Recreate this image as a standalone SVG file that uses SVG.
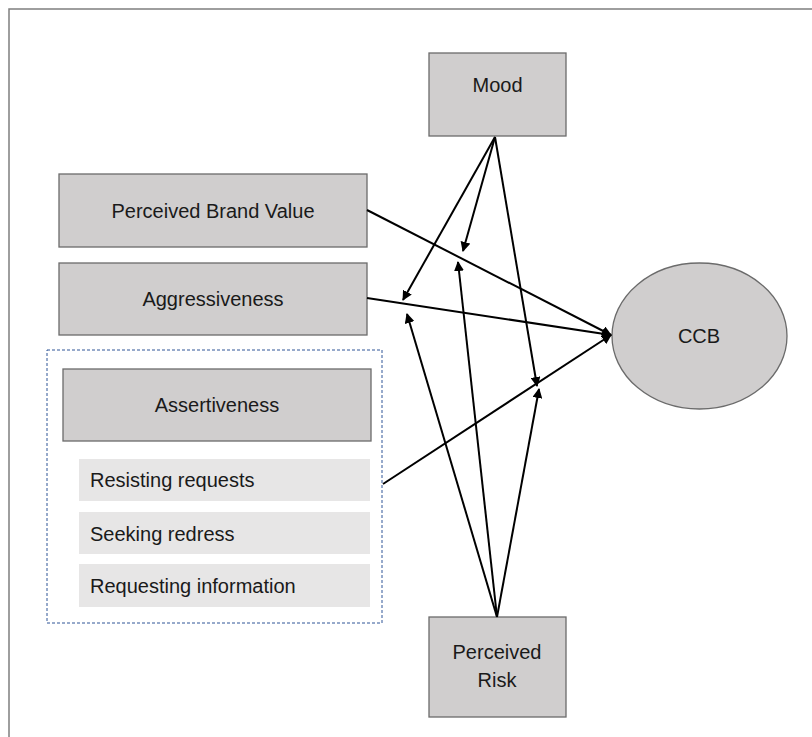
<svg xmlns="http://www.w3.org/2000/svg" width="812" height="737" viewBox="0 0 812 737">
<style>
.box{fill:#d0cece;stroke:#6b6b6b;stroke-width:1.3}
.sub{fill:#e7e6e6}
.t{font-family:"Liberation Sans",Arial,sans-serif;font-size:20px;fill:#1a1a1a}
.c{text-anchor:middle}
.ln{stroke:#000;stroke-width:2;fill:none;marker-end:url(#ah)}
</style>
<defs>
<marker id="ah" viewBox="0 0 10 10" refX="9" refY="5" markerWidth="5" markerHeight="5" orient="auto" markerUnits="strokeWidth">
<path d="M0,0 L10,5 L0,10 Z" fill="#000"/>
</marker>
</defs>
<rect width="812" height="737" fill="#fff"/>
<path d="M9,737 V9 H812" fill="none" stroke="#7f7f7f" stroke-width="1.5"/>

<g id="mood"><rect class="box" x="429" y="53" width="137" height="83"/><text class="t c" x="497.5" y="92">Mood</text></g>
<g id="pbv"><rect class="box" x="59" y="174" width="308" height="73"/><text class="t c" x="213" y="218">Perceived Brand Value</text></g>
<g id="agg"><rect class="box" x="59" y="263" width="308" height="72"/><text class="t c" x="213" y="306">Aggressiveness</text></g>
<g id="assertiveness-group">
<rect x="47" y="350" width="335" height="273" fill="none" stroke="#2f5597" stroke-width="1" stroke-dasharray="3,2"/>
<g id="ass"><rect class="box" x="63" y="369" width="308" height="72"/><text class="t c" x="217" y="412">Assertiveness</text></g>
<g id="resisting"><rect class="sub" x="79" y="459" width="291" height="42"/><text class="t" x="90" y="487">Resisting requests</text></g>
<g id="seeking"><rect class="sub" x="79" y="512" width="291" height="42"/><text class="t" x="90" y="541">Seeking redress</text></g>
<g id="requesting"><rect class="sub" x="79" y="564" width="291" height="43"/><text class="t" x="90" y="593">Requesting information</text></g>
</g>
<g id="risk"><rect class="box" x="429" y="617" width="137" height="100"/><text class="t c" x="497" y="659">Perceived</text><text class="t c" x="497" y="687">Risk</text></g>
<g id="ccb"><ellipse cx="699.5" cy="336" rx="87.5" ry="73" fill="#d0cece" stroke="#6b6b6b" stroke-width="1.3"/><text class="t c" x="699" y="343">CCB</text></g>

<g id="connectors">
<line class="ln" x1="367" y1="210" x2="611" y2="335"/>
<line class="ln" x1="367" y1="298" x2="611" y2="335"/>
<line class="ln" x1="383" y1="484" x2="611" y2="335"/>
<line class="ln" x1="495" y1="137" x2="403" y2="300"/>
<line class="ln" x1="495" y1="137" x2="463" y2="251"/>
<line class="ln" x1="495" y1="137" x2="537" y2="386"/>
<line class="ln" x1="497" y1="617" x2="407" y2="314"/>
<line class="ln" x1="497" y1="617" x2="458" y2="262"/>
<line class="ln" x1="497" y1="617" x2="539" y2="389"/>
</g>
</svg>
